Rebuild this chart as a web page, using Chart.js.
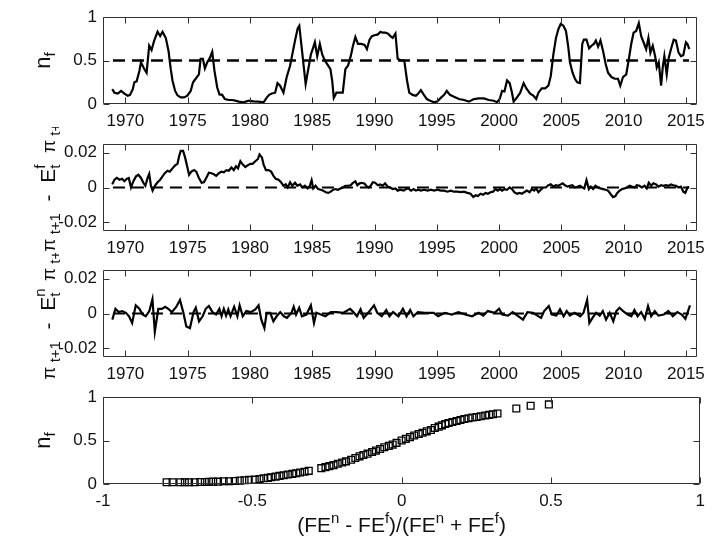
<!DOCTYPE html>
<html>
<head>
<meta charset="utf-8">
<script src="https://cdn.jsdelivr.net/npm/chart.js@4.4.1/dist/chart.umd.min.js"></script>
<style>
  html, body { margin: 0; padding: 0; background: #fff; }
  #wrap { position: relative; width: 712px; height: 544px; }
  #wrap canvas { position: absolute; left: 0; }
</style>
</head>
<body>
<div id="wrap">
  <canvas id="c1" width="712" height="127" style="top:0"></canvas>
  <canvas id="c2" width="712" height="127" style="top:127px"></canvas>
  <canvas id="c3" width="712" height="127" style="top:253px"></canvas>
  <canvas id="c4" width="712" height="164" style="top:380px"></canvas>
</div>
<script>
// ---- data ----
var yearTicks = [1970, 1975, 1980, 1985, 1990, 1995, 2000, 2005, 2010, 2015];
var nfTicks = [0, 0.5, 1];
var feTicks = [-0.02, 0, 0.02];
var ratioTicks = [-1, -0.5, 0, 0.5, 1];

// fraction of fundamentalists n_f
var nfYears = [1968.94,1969.12,1969.39,1969.65,1969.92,1970.19,1970.37,1970.59,1970.72,1970.90,
  1971.12,1971.25,1971.52,1971.70,1971.91,1972.10,1972.31,1972.58,1972.79,1972.98,
  1973.24,1973.46,1973.64,1973.78,1973.99,1974.18,1974.44,1974.71,1974.97,1975.24,
  1975.43,1975.64,1975.90,1976.04,1976.22,1976.38,1976.57,1976.78,1976.97,1977.15,
  1977.37,1977.55,1977.77,1977.98,1978.30,1978.56,1978.83,1979.10,1979.49,1979.89,
  1980.29,1980.69,1981.09,1981.36,1981.54,1981.76,1982.02,1982.21,1982.42,1982.69,
  1982.95,1983.22,1983.40,1983.62,1983.83,1983.96,1984.15,1984.34,1984.47,1984.68,
  1984.89,1985.08,1985.21,1985.40,1985.61,1985.80,1986.01,1986.28,1986.46,1986.60,
  1986.73,1986.94,1987.21,1987.45,1987.66,1987.87,1988.09,1988.27,1988.46,1988.67,
  1988.94,1989.20,1989.39,1989.60,1989.79,1990.00,1990.27,1990.48,1990.66,1990.85,
  1991.06,1991.28,1991.46,1991.68,1991.86,1992.13,
  1992.39,1992.61,1992.79,1993.06,1993.32,1993.51,1993.72,1993.94,1994.20,1994.47,
  1994.79,1995.05,1995.32,1995.59,1995.80,1996.06,1996.38,1996.78,1997.18,1997.58,
  1997.98,1998.38,1998.78,1999.18,1999.57,1999.84,2000.05,2000.24,2000.43,2000.64,
  2000.85,2001.04,2001.17,2001.44,2001.70,2001.97,2002.23,2002.50,2002.77,2002.98,
  2003.16,2003.43,2003.70,2003.96,2004.15,2004.36,2004.57,2004.76,2004.95,2005.16,
  2005.37,2005.56,2005.69,2005.90,2006.09,2006.28,2006.49,2006.68,2006.81,2007.02,
  2007.23,2007.42,2007.61,2007.77,2007.95,2008.14,2008.35,2008.56,2008.75,2009.02,
  2009.28,2009.55,2009.73,2009.95,2010.21,2010.40,2010.61,2010.80,2011.01,2011.22,
  2011.41,2011.60,2011.81,2011.99,2012.15,2012.34,2012.53,2012.66,2012.82,2013.01,
  2013.14,2013.27,2013.46,2013.62,2013.80,2014.02,2014.20,2014.41,2014.60,2014.79,
  2015.00,2015.13,2015.27];
var nfValues = [0.17,0.13,0.12,0.15,0.12,0.095,0.105,0.17,0.25,0.26,
  0.38,0.48,0.40,0.36,0.67,0.62,0.73,0.83,0.78,0.83,
  0.76,0.61,0.40,0.27,0.15,0.10,0.076,0.076,0.095,0.15,
  0.25,0.29,0.34,0.52,0.52,0.41,0.48,0.53,0.60,0.38,
  0.19,0.11,0.105,0.057,0.046,0.046,0.038,0.027,0.02,0.038,
  0.03,0.027,0.02,0.076,0.105,0.12,0.13,0.24,0.21,0.13,
  0.31,0.44,0.57,0.73,0.87,0.90,0.65,0.40,0.23,0.40,
  0.57,0.65,0.71,0.55,0.69,0.57,0.50,0.44,0.40,0.27,
  0.07,0.13,0.13,0.13,0.40,0.44,0.55,0.67,0.77,0.69,
  0.69,0.68,0.63,0.74,0.78,0.79,0.80,0.83,0.82,0.82,
  0.81,0.78,0.76,0.81,0.52,0.50,
  0.50,0.27,0.13,0.105,0.095,0.12,0.16,0.11,0.057,0.038,
  0.02,0.03,0.07,0.105,0.15,0.105,0.084,0.057,0.046,0.027,
  0.057,0.065,0.065,0.046,0.038,0.02,0.057,0.15,0.145,0.27,
  0.24,0.13,0.027,0.076,0.13,0.24,0.17,0.12,0.095,0.057,
  0.13,0.18,0.18,0.21,0.32,0.57,0.76,0.86,0.92,0.90,
  0.84,0.65,0.48,0.36,0.29,0.25,0.24,0.69,0.74,0.74,
  0.64,0.67,0.69,0.73,0.66,0.73,0.61,0.46,0.36,0.31,
  0.29,0.29,0.21,0.31,0.34,0.50,0.69,0.82,0.84,0.93,
  0.78,0.71,0.63,0.76,0.59,0.67,0.55,0.42,0.48,0.21,
  0.42,0.55,0.34,0.53,0.63,0.74,0.73,0.59,0.55,0.56,
  0.71,0.69,0.63];

// forecast error of fundamentalists
var feFYears = [1968.94,1969.12,1969.31,1969.52,1969.73,1969.92,1970.11,1970.27,1970.45,1970.64,
  1970.85,1971.04,1971.25,1971.44,1971.60,1971.78,1971.91,1972.05,1972.18,1972.37,
  1972.58,1972.79,1972.98,1973.16,1973.38,1973.56,1973.78,1973.99,1974.18,1974.31,
  1974.44,1974.63,1974.79,1974.97,1975.11,1975.29,1975.51,1975.69,1975.90,1976.12,
  1976.30,1976.49,1976.70,1976.91,1977.10,1977.29,1977.50,1977.71,1977.90,1978.11,
  1978.30,1978.51,1978.70,1978.88,1979.04,1979.23,1979.41,1979.63,1979.81,1980.03,
  1980.21,1980.43,1980.64,1980.77,1980.96,1981.09,1981.28,1981.49,1981.70,1981.89,
  1982.07,1982.29,1982.50,1982.69,1982.87,1983.03,1983.22,1983.40,1983.62,1983.80,
  1984.02,1984.20,1984.41,1984.63,1984.81,1984.95,1985.08,1985.27,1985.48,1985.69,
  1985.88,1986.09,1986.28,1986.49,1986.68,1986.86,1987.07,1987.29,1987.47,1987.66,
  1987.87,1988.09,1988.27,1988.46,1988.62,1988.80,1988.99,1989.20,1989.34,1989.52,
  1989.68,1989.87,1990.05,1990.27,1990.45,1990.66,1990.85,1991.06,1991.25,1991.46,
  1991.68,1991.86,1992.07,
  1992.34,1992.53,1992.71,1992.93,1993.14,1993.32,1993.51,1993.72,1993.99,1994.26,
  1994.52,1994.79,1995.05,1995.32,1995.59,1995.85,1996.12,1996.38,1996.65,1996.91,
  1997.18,1997.45,1997.71,1997.93,1998.11,1998.30,1998.51,1998.72,1998.91,1999.10,
  1999.31,1999.52,1999.71,1999.89,2000.05,2000.24,2000.43,2000.64,2000.85,2001.04,
  2001.22,2001.44,2001.65,2001.84,2002.02,2002.23,2002.45,2002.63,2002.82,2002.98,
  2003.16,2003.35,2003.56,2003.75,2003.96,2004.15,2004.36,2004.55,2004.76,2004.95,
  2005.11,2005.29,2005.48,2005.69,2005.88,2006.09,2006.28,2006.49,2006.68,2006.84,
  2007.02,2007.21,2007.37,2007.55,2007.74,2007.95,2008.14,2008.35,2008.56,2008.75,
  2008.94,2009.15,2009.34,2009.49,2009.68,2009.89,2010.08,2010.27,2010.48,2010.66,
  2010.88,2011.06,2011.28,2011.46,2011.68,2011.86,2012.02,2012.21,2012.39,2012.61,
  2012.79,2013.01,2013.19,2013.40,2013.62,2013.80,2013.99,2014.20,2014.41,2014.60,
  2014.79,2014.95,2015.13,2015.27];
var feFValues = [0.0018,0.0045,0.0055,0.0045,0.005,0.0036,0.005,0.0055,0,0.0036,
  0.0064,0.0073,0.0055,0.0027,0.001,0.0055,0.0078,0.001,-0.0018,0.001,
  0.003,0.0045,0.0064,0.0082,0.0096,0.0091,0.011,0.0127,0.0136,0.018,
  0.021,0.021,0.0173,0.0118,0.0073,0.0091,0.01,0.0091,0.0055,0.0027,
  0.003,0.0055,0.0085,0.0082,0.0076,0.0067,0.0082,0.0091,0.0087,0.01,
  0.0096,0.0115,0.01,0.0122,0.011,0.0151,0.0133,0.0118,0.0127,0.0136,
  0.0136,0.0151,0.0164,0.019,0.0173,0.0133,0.01,0.01,0.0091,0.0067,
  0.005,0.0045,0.003,0.001,0.0018,0,0.003,0.001,0.0027,0.001,
  0.0018,0,0.001,-0.0005,0.001,0.0042,-0.0005,0.001,-0.0009,-0.0013,
  -0.0018,-0.0027,-0.0031,-0.0024,-0.0013,-0.0009,-0.0013,-0.0005,0,0.001,
  0.001,0.0013,0.0027,0.0036,0.0013,0.0024,0.0027,0.0022,0.001,0,
  0.001,0.003,0.0027,0.0013,0.0018,0.001,0.0024,0.0005,0,-0.0009,
  -0.0005,-0.0018,-0.0013,
  -0.0018,-0.0009,-0.0005,-0.0018,-0.0009,-0.0018,-0.0013,-0.0018,-0.0013,-0.0018,
  -0.0013,-0.0018,-0.0013,-0.0018,-0.0018,-0.0024,-0.0018,-0.0024,-0.0024,-0.0027,
  -0.0024,-0.0031,-0.0036,-0.0055,-0.0045,-0.0049,-0.0036,-0.0042,-0.0031,-0.0036,
  -0.0027,-0.0024,-0.0009,-0.0018,-0.0009,-0.0018,-0.0009,-0.0013,0,-0.0009,
  -0.0027,-0.0036,-0.0031,-0.0036,-0.0027,-0.0018,-0.0027,-0.0009,-0.0018,-0.0005,
  -0.0027,-0.0013,0,0,0.0013,0.0018,0.0005,0.0013,0.001,0.0018,
  0.0024,0.0013,0.0005,0.001,0.0013,0,0.0004,0.001,0,-0.0005,
  0.0042,-0.0009,0.0005,-0.0009,0.001,0,-0.0005,-0.0009,-0.0013,-0.0018,
  -0.0036,-0.0055,-0.0049,-0.0031,-0.0018,-0.0009,-0.0005,0,0.001,0.0005,
  0,0.0013,0.001,0,0.001,-0.0005,0.0027,0.001,0.0024,0.0018,
  0.0005,0.0013,0.001,0.0013,0.001,0.0018,0.0013,0.001,0,0.0005,
  -0.0024,-0.0031,0,0.0002];

// forecast error of naive agents
var feNYears = [1968.95,1969.20,1969.46,1969.75,1970.04,1970.29,1970.54,1970.83,1971.12,1971.38,
  1971.63,1971.92,1972.17,1972.36,1972.64,1972.93,1973.19,1973.44,1973.73,1974.09,
  1974.38,1974.64,1974.89,1975.18,1975.47,1975.65,1975.91,1976.20,1976.45,1976.70,
  1976.99,1977.28,1977.54,1977.72,1977.90,1978.08,1978.26,1978.44,1978.73,1978.99,
  1979.17,1979.42,1979.71,1980.07,1980.43,1980.69,1980.91,1981.16,1981.34,1981.63,
  1981.88,1982.14,1982.43,1982.72,1982.97,1983.33,1983.51,1983.70,1983.95,1984.17,
  1984.53,1984.89,1985.14,1985.33,1985.69,1986.05,1986.49,1986.96,1987.50,1988.04,
  1988.30,1988.59,1988.88,1989.13,1989.49,1989.96,1990.22,1990.58,1990.94,1991.20,
  1991.49,1991.92,1992.28,1992.57,1992.86,1993.12,1993.48,1994.02,1994.75,1995.11,
  1995.65,1996.20,1996.74,1997.28,1997.83,1998.37,1998.73,1999.09,1999.64,2000.00,
  2000.25,2000.72,2001.09,2001.56,2001.92,2002.28,2002.72,2003.08,2003.37,2003.62,
  2003.99,2004.24,2004.60,2004.89,2005.18,2005.43,2005.69,2006.05,2006.52,2006.78,
  2007.07,2007.25,2007.50,2007.79,2008.08,2008.33,2008.59,2008.88,2009.17,2009.42,
  2009.67,2009.96,2010.33,2010.62,2010.87,2011.12,2011.41,2011.70,2011.96,2012.21,
  2012.50,2012.79,2013.22,2013.59,2013.95,2014.31,2014.67,2014.96,2015.33];
var feNValues = [-0.0035,0.0027,0.0008,0.0014,0.0004,-0.0016,-0.0055,0.0047,0.0027,-0.0006,
  -0.0016,0.0014,0.0082,-0.0104,0.0027,0.0027,0.0039,0.0027,0.0008,0.0039,
  0.0078,0.0008,-0.0075,-0.0084,0.0008,0.0033,-0.0045,-0.0016,0.0027,0.0043,
  0.0008,-0.0006,0.0027,-0.0016,0.0027,-0.0012,0.0024,-0.0016,0.0039,-0.0016,
  0.0047,-0.0016,0.0014,0.0008,0.0024,0.0047,-0.0035,-0.0084,0.0004,0.0004,
  -0.0045,-0.0016,0.0008,-0.0016,-0.0025,0.0004,0.0039,-0.0006,0.0033,-0.0016,
  -0.0006,0.0047,-0.0055,0.0004,-0.0006,-0.0016,0.0008,0.0008,0.0004,0.0027,
  0.0008,-0.0016,0.0024,-0.0025,0.0004,0.0047,0.0004,-0.0016,0.002,-0.0016,
  0.0008,-0.0016,0.0027,-0.0016,0.002,-0.0016,0.0008,0.0004,0.0004,-0.0016,
  0.0004,-0.0006,0.0008,-0.0006,-0.0016,0.0004,-0.0012,0.0014,0.0004,0.0027,
  -0.0006,-0.0012,0.0008,-0.0016,-0.0035,0.0008,0.0004,-0.0012,-0.0025,0.0014,
  0.0043,-0.0006,-0.0012,0.0024,-0.0016,0.0014,-0.0012,0.0004,-0.0016,0.0004,
  0.0078,-0.0055,-0.0025,0.0004,-0.0012,0.0014,-0.0035,0.0004,-0.0045,0.0014,
  0.0033,0.0014,-0.0006,-0.0016,0.002,-0.0016,0.0008,-0.0031,0.0043,-0.0016,
  0.0014,-0.0012,-0.0006,0.0014,-0.0016,0.0008,-0.0006,-0.0031,0.0047];

// (FEn - FEf)/(FEn + FEf) against n_f
var ratioX = [-0.787,-0.767,-0.741,-0.726,-0.712,-0.693,-0.674,-0.659,-0.645,-0.631,
  -0.615,-0.596,-0.578,-0.559,-0.542,-0.526,-0.511,-0.492,-0.476,-0.462,
  -0.448,-0.437,-0.422,-0.409,-0.395,-0.381,-0.366,-0.353,-0.340,-0.325,
  -0.311,-0.269,-0.255,-0.242,-0.228,-0.214,-0.199,-0.186,-0.169,-0.155,
  -0.141,-0.128,-0.114,-0.099,-0.086,-0.072,-0.058,-0.043,-0.030,-0.017,
  0.000,0.014,0.028,0.042,0.057,0.070,0.084,0.098,0.111,0.124,
  0.135,0.146,0.157,0.170,0.184,0.197,0.210,0.224,0.237,0.251,
  0.265,0.280,0.293,0.306,0.321,0.384,0.432,0.493];
var ratioNf = [0.02,0.02,0.02,0.02,0.021,0.021,0.023,0.023,0.025,0.027,
  0.027,0.031,0.031,0.035,0.039,0.043,0.047,0.050,0.058,0.066,
  0.070,0.078,0.085,0.093,0.101,0.109,0.116,0.124,0.132,0.140,
  0.151,0.182,0.194,0.205,0.217,0.233,0.248,0.260,0.279,0.298,
  0.318,0.333,0.349,0.368,0.384,0.403,0.422,0.438,0.453,0.473,
  0.500,0.519,0.539,0.558,0.574,0.589,0.605,0.620,0.643,0.659,
  0.674,0.690,0.702,0.713,0.725,0.736,0.748,0.756,0.764,0.771,
  0.779,0.787,0.795,0.802,0.810,0.868,0.899,0.915];

// ---- drawing ----
var FONT = "'Liberation Sans', Arial, Helvetica, sans-serif";
Chart.defaults.font.family = FONT;
Chart.defaults.font.size = 17;
Chart.defaults.color = '#111';
Chart.defaults.animation = false;

function pairs(xs, ys) {
  return xs.map(function (x, i) { return { x: x, y: ys[i] }; });
}

// text with sub/superscripts: [text, size, dy, keepX]
function drawRich(ctx, parts, x, y, angle) {
  ctx.save();
  ctx.translate(x, y);
  ctx.rotate(angle);
  var total = 0;
  parts.forEach(function (p) {
    ctx.font = p[1] + 'px ' + FONT;
    p.w = ctx.measureText(p[0]).width;
    if (!p[3]) total += p.w;
  });
  var cx = -total / 2;
  ctx.fillStyle = '#111';
  ctx.textAlign = 'left';
  ctx.textBaseline = 'alphabetic';
  parts.forEach(function (p) {
    ctx.font = p[1] + 'px ' + FONT;
    ctx.fillText(p[0], cx, p[2] || 0);
    if (!p[3]) cx += p.w;
  });
  ctx.restore();
}

// boxed axes with inward ticks, plus the axis titles
var matlabAxes = {
  id: 'matlabAxes',
  afterDatasetsDraw: function (chart, args, opts) {
    var ctx = chart.ctx, a = chart.chartArea, sx = chart.scales.x, sy = chart.scales.y;
    var L = Math.round(a.left) + 0.5, R = Math.round(a.right) - 0.5;
    var T = Math.round(a.top) + 0.5, B = Math.round(a.bottom) - 0.5;
    ctx.save();
    ctx.strokeStyle = '#333';
    ctx.lineWidth = 1;
    ctx.beginPath();
    sx.ticks.forEach(function (t) {
      var p = Math.round(sx.getPixelForValue(t.value)) + 0.5;
      ctx.moveTo(p, B); ctx.lineTo(p, B - 6);
      ctx.moveTo(p, T); ctx.lineTo(p, T + 6);
    });
    sy.ticks.forEach(function (t) {
      var p = Math.round(sy.getPixelForValue(t.value)) + 0.5;
      ctx.moveTo(L, p); ctx.lineTo(L + 6, p);
      ctx.moveTo(R, p); ctx.lineTo(R - 6, p);
    });
    ctx.rect(L, T, R - L, B - T);
    ctx.stroke();
    ctx.restore();
    if (opts.yTitle) drawRich(ctx, opts.yTitle, opts.yTitleX, opts.yTitleY || (a.top + a.bottom) / 2, -Math.PI / 2);
    if (opts.xTitle) drawRich(ctx, opts.xTitle, (a.left + a.right) / 2, opts.xTitleY, 0);
  }
};
Chart.register(matlabAxes);

function axisX(min, max, ticks) {
  return {
    type: 'linear', min: min, max: max,
    grid: { display: false, drawTicks: false }, border: { display: false },
    afterBuildTicks: function (s) { s.ticks = ticks.map(function (v) { return { value: v }; }); },
    afterFit: function (s) { s.height = 23; },
    ticks: { autoSkip: false, maxRotation: 0, padding: 7, callback: function (v) { return String(v); } }
  };
}
function axisY(min, max, ticks) {
  return {
    min: min, max: max,
    grid: { display: false, drawTicks: false }, border: { display: false },
    afterBuildTicks: function (s) { s.ticks = ticks.map(function (v) { return { value: v }; }); },
    afterFit: function (s) { s.width = 103; },
    ticks: { padding: 6, callback: function (v) { return String(v); } }
  };
}

function makeChart(id, datasets, xs, ys, titles, bottomPad) {
  return new Chart(document.getElementById(id), {
    type: 'line',
    data: { datasets: datasets },
    options: {
      responsive: false,
      layout: { padding: { top: 17, left: 0, right: 10.4, bottom: bottomPad } },
      scales: { x: xs, y: ys },
      plugins: { legend: { display: false }, tooltip: { enabled: false }, matlabAxes: titles },
      elements: { point: { radius: 0 }, line: { tension: 0 } }
    }
  });
}

function lineSet(data) {
  return { data: data, borderColor: '#000', borderWidth: 2.2, pointRadius: 0, fill: false };
}
function dashSet(level, width) {
  return { data: [{ x: 1969, y: level }, { x: 2015.25, y: level }], borderColor: '#000',
    borderWidth: width, borderDash: [12, 7], pointRadius: 0, fill: false };
}

var nfTitle = [['n', 22, 0], ['f', 15, 5]];
var feFTitle = [['\u03c0', 19, 0], [' t+1', 15, 5], ['  -  E', 21, 0], ['f', 15, -10, true], ['t', 15, 5], ['  ', 21, 0], ['\u03c0', 19, 0], [' t+1', 15, 5]];
var feNTitle = [['\u03c0', 19, 0], [' t+1', 15, 5], ['  -  E', 21, 0], ['n', 15, -10, true], ['t', 15, 5], ['  ', 21, 0], ['\u03c0', 19, 0], [' t+1', 15, 5]];
var ratioTitle = [['(FE', 21, 0], ['n', 15, -9], [' - FE', 21, 0], ['f', 15, -9], [')/(FE', 21, 0], ['n', 15, -9], [' + FE', 21, 0], ['f', 15, -9], [')', 21, 0]];

makeChart('c1', [dashSet(0.5, 2.6), lineSet(pairs(nfYears, nfValues))],
  axisX(1968.2, 2015.9, yearTicks), axisY(0, 1, nfTicks),
  { yTitle: nfTitle, yTitleX: 50 }, 0);

makeChart('c2', [dashSet(0, 2.2), lineSet(pairs(feFYears, feFValues))],
  axisX(1968.2, 2015.9, yearTicks), axisY(-0.025, 0.025, feTicks),
  { yTitle: feFTitle, yTitleX: 55, yTitleY: 56 }, 0);

makeChart('c3', [dashSet(0, 2.2), lineSet(pairs(feNYears, feNValues))],
  axisX(1968.2, 2015.9, yearTicks), axisY(-0.025, 0.025, feTicks),
  { yTitle: feNTitle, yTitleX: 55, yTitleY: 58 }, 0);

makeChart('c4', [{
    type: 'scatter', data: pairs(ratioX, ratioNf), showLine: false, clip: false,
    pointStyle: 'rect', pointRadius: 4.8, borderColor: '#000', borderWidth: 1.3,
    backgroundColor: 'rgba(0,0,0,0)'
  }],
  axisX(-1, 1, ratioTicks), axisY(0, 1, nfTicks),
  { yTitle: nfTitle, yTitleX: 50, xTitle: ratioTitle, xTitleY: 152 }, 37);
</script>
</body>
</html>
